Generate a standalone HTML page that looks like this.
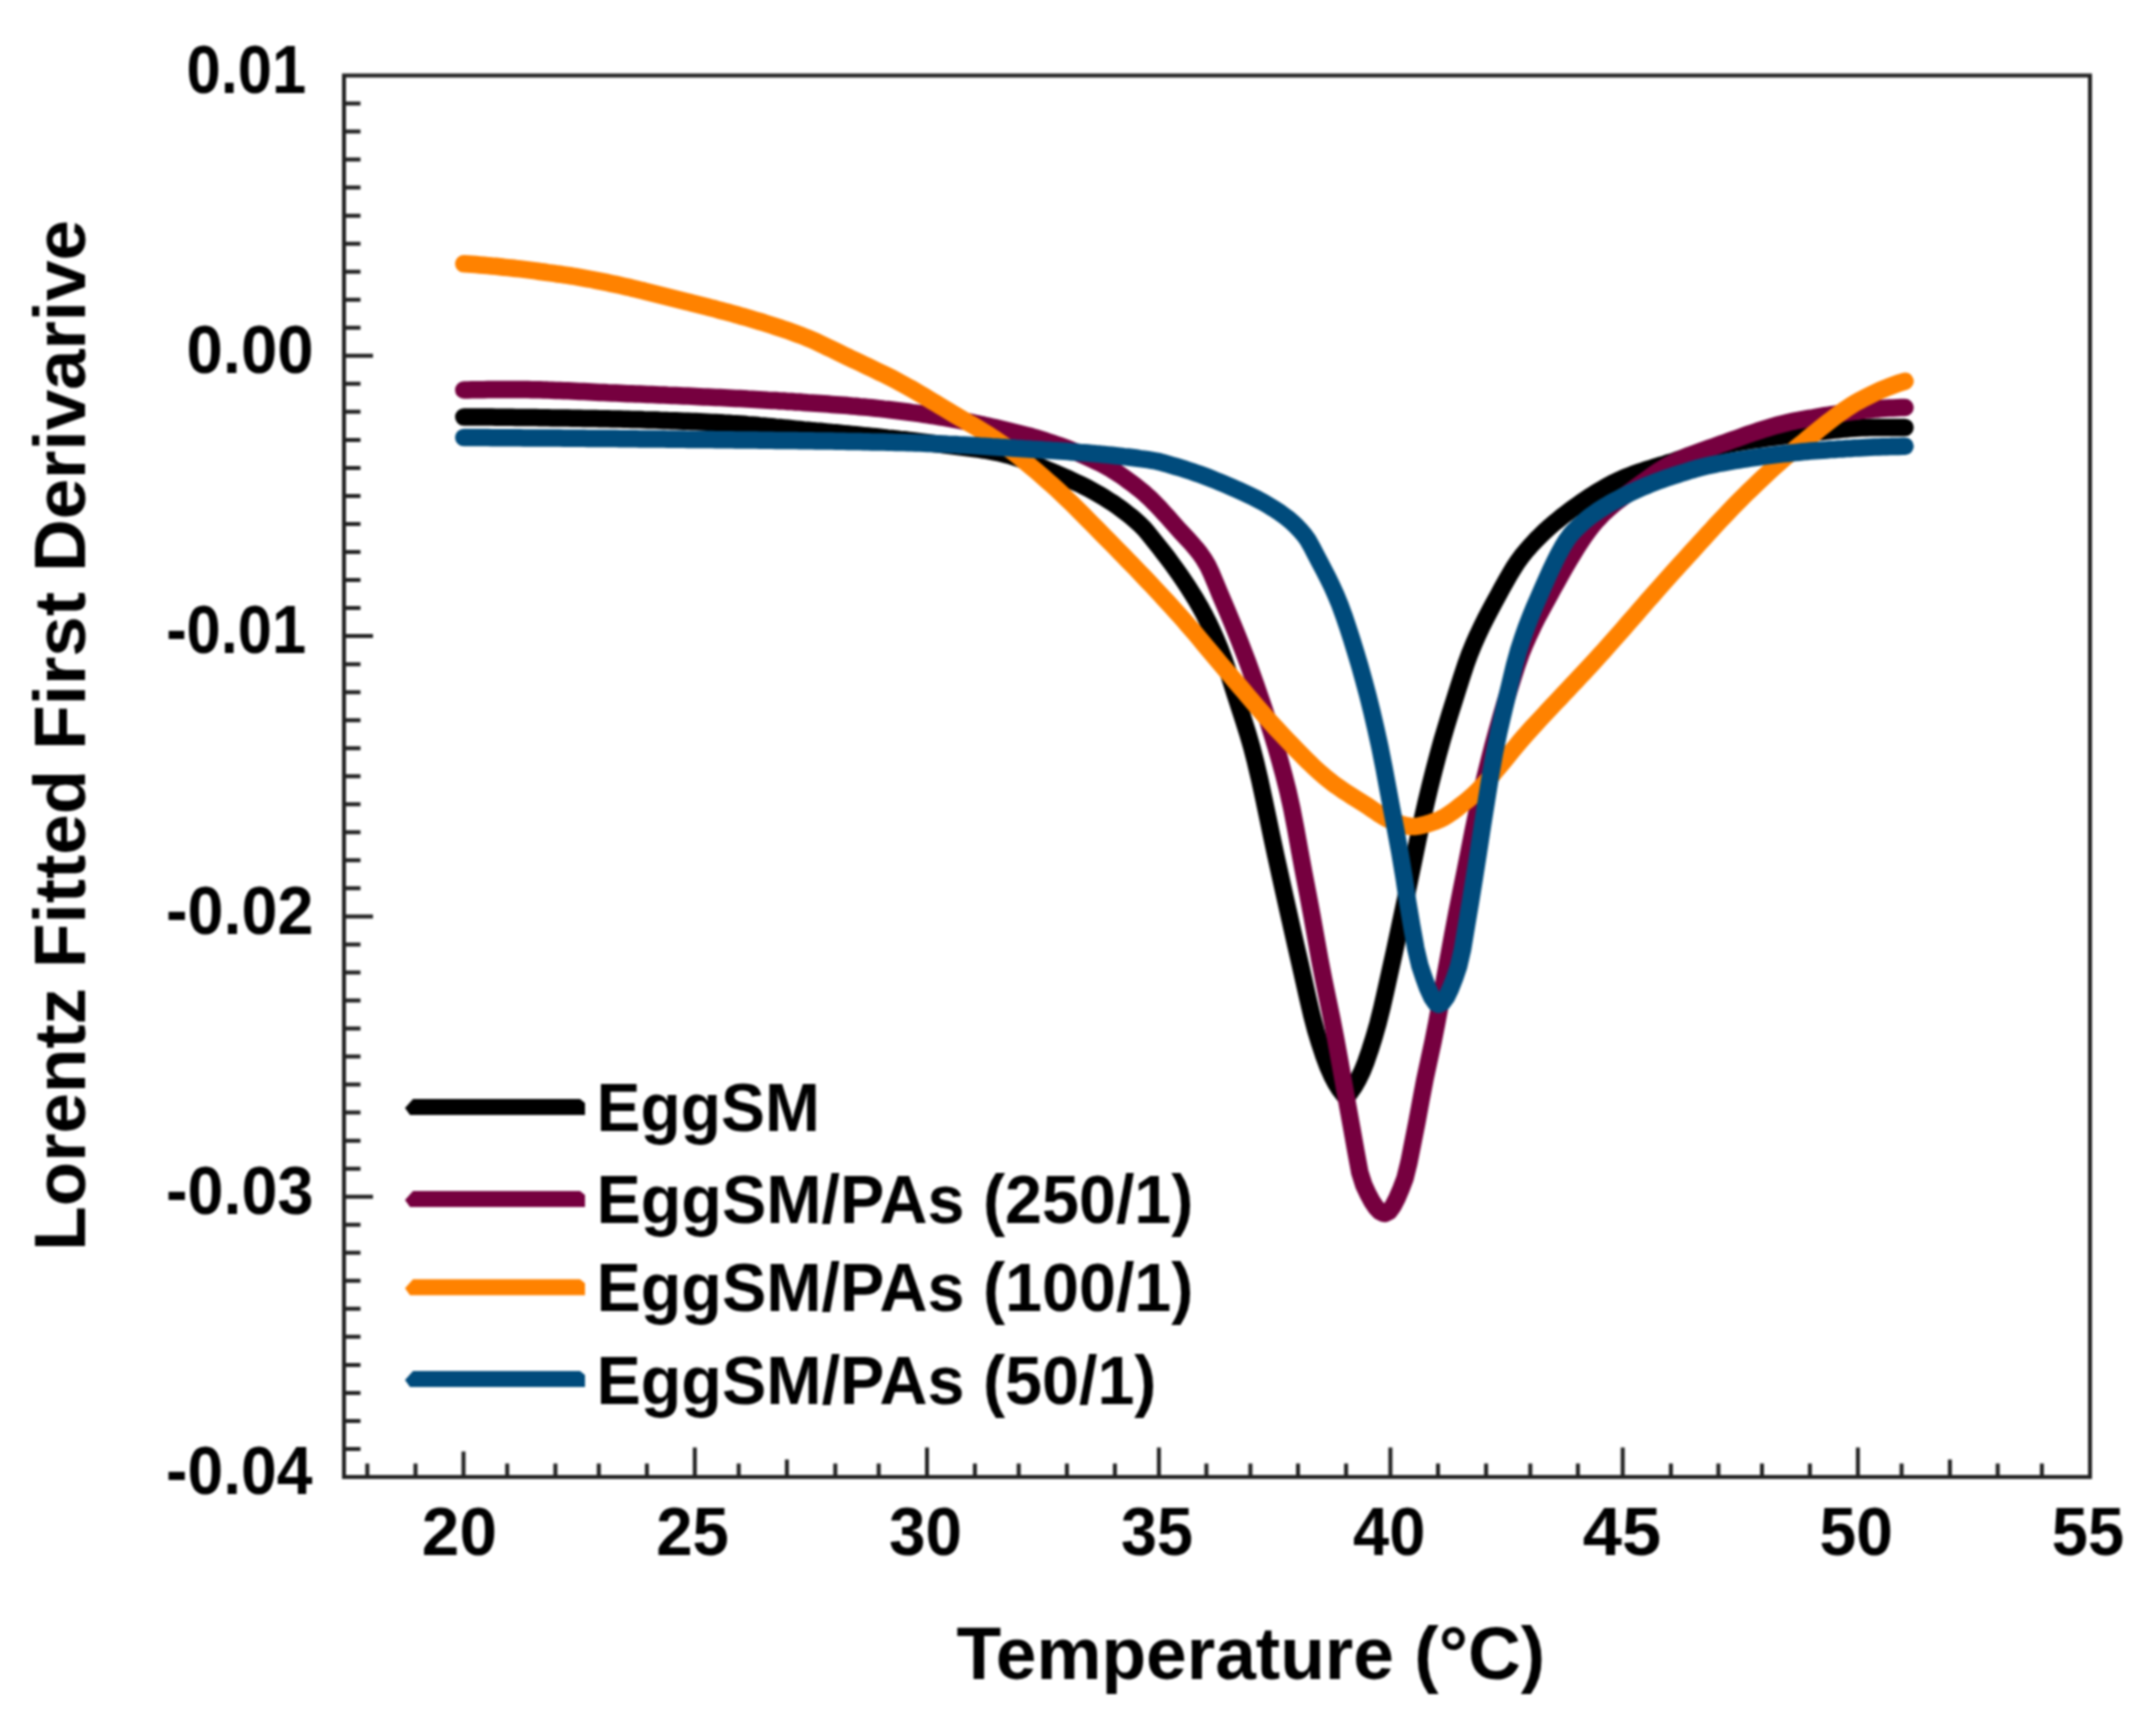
<!DOCTYPE html>
<html lang="en"><head><meta charset="utf-8"><title>Lorentz Fitted First Derivative</title>
<style>
html,body{margin:0;padding:0;background:#fff;}
body{width:2143px;height:1733px;overflow:hidden;}
svg{display:block;filter:blur(0.9px);}
text{font-family:"Liberation Sans",Arial,Helvetica,sans-serif;font-weight:bold;fill:#000;}
</style></head><body>
<svg width="2143" height="1733" viewBox="0 0 2143 1733">
<rect width="2143" height="1733" fill="#fff"/>
<g id="curves">
<path d="M463.8,417.0 L467.8,417.0 L471.8,417.0 L475.8,417.0 L479.8,417.1 L483.8,417.1 L487.8,417.1 L491.8,417.1 L495.8,417.2 L499.8,417.2 L503.8,417.2 L507.8,417.3 L511.8,417.3 L515.8,417.4 L519.8,417.4 L523.8,417.5 L527.8,417.5 L531.8,417.6 L535.8,417.6 L539.8,417.7 L543.8,417.7 L547.8,417.8 L551.8,417.9 L555.8,417.9 L559.8,418.0 L563.8,418.1 L567.8,418.1 L571.8,418.2 L575.8,418.3 L579.8,418.3 L583.8,418.4 L587.8,418.5 L591.8,418.5 L595.8,418.6 L599.8,418.7 L603.8,418.8 L607.8,418.8 L611.8,418.9 L615.8,419.0 L619.8,419.1 L623.8,419.2 L627.8,419.3 L631.8,419.4 L635.8,419.5 L639.8,419.6 L643.8,419.8 L647.8,419.9 L651.8,420.0 L655.8,420.1 L659.8,420.3 L663.8,420.4 L667.8,420.6 L671.8,420.7 L675.8,420.8 L679.8,421.0 L683.8,421.2 L687.8,421.3 L691.8,421.5 L695.8,421.6 L699.8,421.8 L703.8,422.0 L707.8,422.2 L711.8,422.4 L715.8,422.5 L719.8,422.7 L723.8,423.0 L727.8,423.2 L731.8,423.5 L735.8,423.7 L739.8,424.0 L743.8,424.3 L747.8,424.7 L751.8,425.0 L755.8,425.3 L759.8,425.7 L763.8,426.0 L767.8,426.4 L771.8,426.8 L775.8,427.2 L779.8,427.5 L783.8,427.9 L787.8,428.3 L791.8,428.7 L795.8,429.1 L799.8,429.5 L803.8,429.9 L807.8,430.2 L811.8,430.6 L815.8,431.0 L819.8,431.3 L823.8,431.7 L827.8,432.1 L831.8,432.5 L835.8,432.8 L839.8,433.2 L843.8,433.6 L847.8,434.0 L851.8,434.4 L855.8,434.8 L859.8,435.2 L863.8,435.6 L867.8,436.0 L871.8,436.4 L875.8,436.8 L879.8,437.2 L883.8,437.6 L887.8,438.1 L891.8,438.5 L895.8,438.9 L899.8,439.4 L903.8,439.8 L907.8,440.3 L911.8,440.7 L915.8,441.2 L919.8,441.7 L923.8,442.2 L927.8,442.7 L931.8,443.2 L935.8,443.7 L939.8,444.2 L943.8,444.8 L947.8,445.3 L951.8,445.8 L955.8,446.3 L959.8,446.8 L963.8,447.3 L967.8,447.8 L971.8,448.3 L975.8,448.9 L979.8,449.4 L983.8,450.0 L987.8,450.7 L991.8,451.4 L995.8,452.2 L999.8,453.0 L1003.8,453.9 L1007.8,454.9 L1011.8,456.1 L1015.8,457.4 L1019.8,458.8 L1023.8,460.3 L1027.8,461.8 L1031.8,463.4 L1035.8,465.1 L1039.8,466.7 L1043.8,468.4 L1047.8,470.1 L1051.8,471.7 L1055.8,473.4 L1059.8,475.1 L1063.8,476.8 L1067.8,478.6 L1071.8,480.4 L1075.8,482.3 L1079.8,484.2 L1083.8,486.2 L1087.8,488.2 L1091.8,490.4 L1095.8,492.6 L1099.8,494.9 L1103.8,497.3 L1107.8,499.8 L1111.8,502.3 L1115.8,505.0 L1119.8,507.9 L1123.8,510.8 L1127.8,514.0 L1131.8,517.2 L1135.8,520.7 L1139.8,524.3 L1143.8,528.2 L1147.8,532.9 L1151.8,537.9 L1155.8,542.9 L1159.8,547.9 L1163.8,553.0 L1167.8,558.2 L1171.8,563.6 L1175.8,569.1 L1179.8,574.8 L1183.8,580.7 L1187.8,586.7 L1191.8,592.9 L1195.8,599.4 L1199.8,606.3 L1203.8,613.6 L1207.8,621.4 L1211.8,629.7 L1215.8,638.8 L1219.8,648.4 L1223.8,659.0 L1227.8,670.9 L1231.8,683.5 L1235.8,696.2 L1239.8,708.6 L1243.8,720.9 L1247.8,733.6 L1251.8,747.4 L1255.8,762.9 L1259.8,780.1 L1263.8,798.5 L1267.8,817.5 L1271.8,836.7 L1275.8,855.5 L1279.8,873.6 L1283.8,891.6 L1287.8,909.5 L1291.8,927.4 L1295.8,945.1 L1299.8,962.5 L1303.8,980.2 L1307.8,998.2 L1311.8,1015.3 L1315.8,1030.5 L1319.8,1043.6 L1323.8,1055.7 L1327.8,1066.5 L1331.8,1075.6 L1335.8,1083.1 L1339.8,1089.5 L1343.8,1094.8 L1346.0,1097.0 L1350.0,1092.6 L1354.0,1086.8 L1358.0,1079.9 L1362.0,1071.7 L1366.0,1061.7 L1370.0,1050.0 L1374.0,1037.3 L1378.0,1023.4 L1382.0,1007.3 L1386.0,989.7 L1390.0,971.6 L1394.0,953.6 L1398.0,934.9 L1402.0,916.0 L1406.0,897.0 L1410.0,877.9 L1414.0,858.8 L1418.0,839.3 L1422.0,820.5 L1426.0,803.0 L1430.0,786.3 L1434.0,770.4 L1438.0,755.1 L1442.0,740.7 L1446.0,727.1 L1450.0,714.0 L1454.0,701.3 L1458.0,688.6 L1462.0,676.1 L1466.0,664.1 L1470.0,653.1 L1474.0,643.4 L1478.0,634.4 L1482.0,626.0 L1486.0,618.0 L1490.0,610.4 L1494.0,602.9 L1498.0,595.6 L1502.0,588.2 L1506.0,581.0 L1510.0,574.0 L1514.0,567.4 L1518.0,561.3 L1522.0,555.8 L1526.0,551.0 L1530.0,546.4 L1534.0,542.1 L1538.0,537.9 L1542.0,534.0 L1546.0,530.2 L1550.0,526.6 L1554.0,523.2 L1558.0,519.9 L1562.0,516.7 L1566.0,513.6 L1570.0,510.6 L1574.0,507.7 L1578.0,504.8 L1582.0,502.0 L1586.0,499.3 L1590.0,496.6 L1594.0,494.0 L1598.0,491.6 L1602.0,489.2 L1606.0,486.9 L1610.0,484.7 L1614.0,482.6 L1618.0,480.7 L1622.0,478.8 L1626.0,477.1 L1630.0,475.5 L1634.0,474.0 L1638.0,472.6 L1642.0,471.2 L1646.0,469.9 L1650.0,468.7 L1654.0,467.4 L1658.0,466.2 L1662.0,465.0 L1666.0,463.7 L1670.0,462.5 L1674.0,461.2 L1678.0,459.8 L1682.0,458.4 L1686.0,457.0 L1690.0,455.6 L1694.0,454.2 L1698.0,452.8 L1702.0,451.4 L1706.0,450.1 L1710.0,448.9 L1714.0,447.7 L1718.0,446.6 L1722.0,445.7 L1726.0,444.8 L1730.0,444.0 L1734.0,443.2 L1738.0,442.5 L1742.0,441.8 L1746.0,441.1 L1750.0,440.5 L1754.0,439.8 L1758.0,439.2 L1762.0,438.7 L1766.0,438.1 L1770.0,437.6 L1774.0,437.1 L1778.0,436.5 L1782.0,436.1 L1786.0,435.6 L1790.0,435.1 L1794.0,434.7 L1798.0,434.2 L1802.0,433.8 L1806.0,433.3 L1810.0,432.9 L1814.0,432.4 L1818.0,431.9 L1822.0,431.5 L1826.0,431.0 L1830.0,430.5 L1834.0,430.1 L1838.0,429.7 L1842.0,429.3 L1846.0,428.9 L1850.0,428.6 L1854.0,428.3 L1858.0,428.0 L1862.0,427.8 L1866.0,427.7 L1870.0,427.5 L1874.0,427.5 L1878.0,427.5 L1882.0,427.5 L1886.0,427.5 L1890.0,427.5 L1894.0,427.5 L1898.0,427.5 L1902.0,427.5 L1905.0,427.5" fill="none" stroke="#000000" stroke-width="17.5" stroke-linecap="round" stroke-linejoin="round"/>
<path d="M463.8,390.0 L467.8,389.9 L471.8,389.8 L475.8,389.8 L479.8,389.7 L483.8,389.7 L487.8,389.6 L491.8,389.6 L495.8,389.5 L499.8,389.5 L503.8,389.5 L507.8,389.5 L511.8,389.5 L515.8,389.5 L519.8,389.5 L523.8,389.5 L527.8,389.6 L531.8,389.7 L535.8,389.7 L539.8,389.8 L543.8,389.9 L547.8,390.1 L551.8,390.2 L555.8,390.4 L559.8,390.5 L563.8,390.7 L567.8,390.8 L571.8,391.0 L575.8,391.2 L579.8,391.4 L583.8,391.6 L587.8,391.8 L591.8,392.0 L595.8,392.2 L599.8,392.4 L603.8,392.6 L607.8,392.8 L611.8,392.9 L615.8,393.1 L619.8,393.3 L623.8,393.5 L627.8,393.7 L631.8,393.8 L635.8,394.0 L639.8,394.1 L643.8,394.3 L647.8,394.5 L651.8,394.6 L655.8,394.8 L659.8,395.0 L663.8,395.1 L667.8,395.3 L671.8,395.4 L675.8,395.6 L679.8,395.8 L683.8,396.0 L687.8,396.1 L691.8,396.3 L695.8,396.5 L699.8,396.7 L703.8,396.9 L707.8,397.0 L711.8,397.2 L715.8,397.4 L719.8,397.6 L723.8,397.8 L727.8,398.0 L731.8,398.2 L735.8,398.4 L739.8,398.6 L743.8,398.8 L747.8,399.1 L751.8,399.3 L755.8,399.5 L759.8,399.7 L763.8,399.9 L767.8,400.2 L771.8,400.4 L775.8,400.6 L779.8,400.9 L783.8,401.1 L787.8,401.4 L791.8,401.6 L795.8,401.9 L799.8,402.1 L803.8,402.4 L807.8,402.7 L811.8,402.9 L815.8,403.2 L819.8,403.5 L823.8,403.8 L827.8,404.1 L831.8,404.4 L835.8,404.7 L839.8,405.0 L843.8,405.3 L847.8,405.6 L851.8,406.0 L855.8,406.3 L859.8,406.7 L863.8,407.0 L867.8,407.4 L871.8,407.8 L875.8,408.2 L879.8,408.6 L883.8,409.1 L887.8,409.5 L891.8,410.0 L895.8,410.5 L899.8,411.0 L903.8,411.5 L907.8,412.0 L911.8,412.6 L915.8,413.1 L919.8,413.7 L923.8,414.3 L927.8,414.9 L931.8,415.5 L935.8,416.2 L939.8,416.8 L943.8,417.5 L947.8,418.2 L951.8,418.9 L955.8,419.7 L959.8,420.4 L963.8,421.2 L967.8,421.9 L971.8,422.7 L975.8,423.5 L979.8,424.4 L983.8,425.2 L987.8,426.1 L991.8,427.0 L995.8,427.9 L999.8,428.8 L1003.8,429.7 L1007.8,430.7 L1011.8,431.7 L1015.8,432.7 L1019.8,433.7 L1023.8,434.7 L1027.8,435.7 L1031.8,436.8 L1035.8,438.0 L1039.8,439.2 L1043.8,440.4 L1047.8,441.7 L1051.8,443.0 L1055.8,444.4 L1059.8,445.8 L1063.8,447.3 L1067.8,448.8 L1071.8,450.4 L1075.8,452.0 L1079.8,453.7 L1083.8,455.4 L1087.8,457.2 L1091.8,459.1 L1095.8,461.0 L1099.8,462.9 L1103.8,464.9 L1107.8,467.2 L1111.8,469.5 L1115.8,472.0 L1119.8,474.6 L1123.8,477.4 L1127.8,480.3 L1131.8,483.3 L1135.8,486.3 L1139.8,489.5 L1143.8,492.8 L1147.8,496.4 L1151.8,500.2 L1155.8,504.2 L1159.8,508.4 L1163.8,512.8 L1167.8,517.2 L1171.8,521.7 L1175.8,526.2 L1179.8,530.7 L1183.8,535.0 L1187.8,539.3 L1191.8,543.6 L1195.8,548.3 L1199.8,553.3 L1203.8,559.0 L1207.8,565.8 L1211.8,574.3 L1215.8,583.8 L1219.8,593.6 L1223.8,603.0 L1227.8,612.4 L1231.8,622.0 L1235.8,631.8 L1239.8,641.8 L1243.8,652.1 L1247.8,662.7 L1251.8,673.7 L1255.8,684.9 L1259.8,696.5 L1263.8,708.3 L1267.8,720.4 L1271.8,733.0 L1275.8,746.2 L1279.8,760.1 L1283.8,774.7 L1287.8,790.5 L1291.8,808.4 L1295.8,829.2 L1299.8,851.4 L1303.8,872.8 L1307.8,893.7 L1311.8,914.9 L1315.8,937.2 L1319.8,959.6 L1323.8,980.2 L1327.8,999.5 L1331.8,1018.8 L1335.8,1039.4 L1339.8,1061.4 L1343.8,1083.7 L1347.8,1106.2 L1351.8,1128.3 L1355.8,1150.8 L1359.8,1172.4 L1363.8,1185.0 L1367.8,1193.7 L1371.8,1201.2 L1375.8,1207.2 L1379.8,1211.4 L1383.8,1213.4 L1385.0,1213.5 L1389.0,1211.5 L1393.0,1206.1 L1397.0,1198.3 L1401.0,1188.9 L1405.0,1178.4 L1409.0,1162.1 L1413.0,1142.0 L1417.0,1121.8 L1421.0,1100.0 L1425.0,1079.0 L1429.0,1060.3 L1433.0,1041.8 L1437.0,1021.6 L1441.0,999.6 L1445.0,977.1 L1449.0,955.1 L1453.0,933.2 L1457.0,912.1 L1461.0,892.0 L1465.0,872.2 L1469.0,852.0 L1473.0,831.7 L1477.0,812.6 L1481.0,794.7 L1485.0,777.6 L1489.0,761.3 L1493.0,745.8 L1497.0,731.0 L1501.0,716.8 L1505.0,703.3 L1509.0,690.2 L1513.0,677.3 L1517.0,665.0 L1521.0,653.8 L1525.0,644.0 L1529.0,634.9 L1533.0,626.4 L1537.0,618.4 L1541.0,610.8 L1545.0,603.5 L1549.0,596.2 L1553.0,588.9 L1557.0,581.7 L1561.0,574.5 L1565.0,567.5 L1569.0,560.6 L1573.0,553.9 L1577.0,547.4 L1581.0,541.2 L1585.0,535.4 L1589.0,529.9 L1593.0,524.7 L1597.0,520.1 L1601.0,515.9 L1605.0,511.9 L1609.0,508.3 L1613.0,504.9 L1617.0,501.6 L1621.0,498.5 L1625.0,495.5 L1629.0,492.5 L1633.0,489.6 L1637.0,486.6 L1641.0,483.7 L1645.0,480.7 L1649.0,477.8 L1653.0,475.0 L1657.0,472.2 L1661.0,469.6 L1665.0,467.1 L1669.0,464.8 L1673.0,462.8 L1677.0,460.8 L1681.0,459.0 L1685.0,457.3 L1689.0,455.6 L1693.0,454.1 L1697.0,452.6 L1701.0,451.1 L1705.0,449.7 L1709.0,448.3 L1713.0,446.9 L1717.0,445.5 L1721.0,444.1 L1725.0,442.7 L1729.0,441.2 L1733.0,439.8 L1737.0,438.4 L1741.0,437.0 L1745.0,435.5 L1749.0,434.1 L1753.0,432.8 L1757.0,431.4 L1761.0,430.1 L1765.0,428.8 L1769.0,427.6 L1773.0,426.4 L1777.0,425.3 L1781.0,424.2 L1785.0,423.2 L1789.0,422.2 L1793.0,421.3 L1797.0,420.5 L1801.0,419.8 L1805.0,419.1 L1809.0,418.4 L1813.0,417.8 L1817.0,417.1 L1821.0,416.4 L1825.0,415.7 L1829.0,415.1 L1833.0,414.5 L1837.0,413.8 L1841.0,413.2 L1845.0,412.7 L1849.0,412.1 L1853.0,411.6 L1857.0,411.1 L1861.0,410.6 L1865.0,410.1 L1869.0,409.7 L1873.0,409.3 L1877.0,408.9 L1881.0,408.6 L1885.0,408.3 L1889.0,408.1 L1893.0,407.9 L1897.0,407.7 L1901.0,407.6 L1905.0,407.5" fill="none" stroke="#76003f" stroke-width="17.5" stroke-linecap="round" stroke-linejoin="round"/>
<path d="M463.8,263.8 L467.8,264.0 L471.8,264.3 L475.8,264.6 L479.8,264.9 L483.8,265.2 L487.8,265.6 L491.8,266.0 L495.8,266.3 L499.8,266.7 L503.8,267.2 L507.8,267.6 L511.8,268.0 L515.8,268.5 L519.8,268.9 L523.8,269.4 L527.8,269.9 L531.8,270.4 L535.8,270.9 L539.8,271.5 L543.8,272.0 L547.8,272.6 L551.8,273.1 L555.8,273.7 L559.8,274.2 L563.8,274.8 L567.8,275.4 L571.8,276.0 L575.8,276.7 L579.8,277.4 L583.8,278.1 L587.8,278.8 L591.8,279.5 L595.8,280.3 L599.8,281.1 L603.8,281.9 L607.8,282.7 L611.8,283.6 L615.8,284.4 L619.8,285.3 L623.8,286.2 L627.8,287.1 L631.8,288.1 L635.8,289.0 L639.8,290.0 L643.8,290.9 L647.8,291.9 L651.8,292.9 L655.8,293.9 L659.8,294.9 L663.8,295.9 L667.8,296.9 L671.8,297.9 L675.8,298.9 L679.8,299.9 L683.8,300.9 L687.8,301.9 L691.8,303.0 L695.8,304.0 L699.8,305.0 L703.8,306.0 L707.8,307.0 L711.8,308.1 L715.8,309.1 L719.8,310.2 L723.8,311.3 L727.8,312.3 L731.8,313.4 L735.8,314.5 L739.8,315.7 L743.8,316.8 L747.8,317.9 L751.8,319.1 L755.8,320.3 L759.8,321.5 L763.8,322.7 L767.8,324.0 L771.8,325.3 L775.8,326.6 L779.8,327.9 L783.8,329.2 L787.8,330.6 L791.8,332.0 L795.8,333.5 L799.8,334.9 L803.8,336.5 L807.8,338.1 L811.8,339.8 L815.8,341.6 L819.8,343.4 L823.8,345.3 L827.8,347.3 L831.8,349.2 L835.8,351.2 L839.8,353.2 L843.8,355.1 L847.8,357.0 L851.8,359.0 L855.8,360.8 L859.8,362.7 L863.8,364.6 L867.8,366.5 L871.8,368.4 L875.8,370.3 L879.8,372.3 L883.8,374.2 L887.8,376.2 L891.8,378.2 L895.8,380.3 L899.8,382.4 L903.8,384.6 L907.8,386.8 L911.8,389.0 L915.8,391.3 L919.8,393.7 L923.8,396.1 L927.8,398.5 L931.8,400.9 L935.8,403.3 L939.8,405.7 L943.8,408.2 L947.8,410.6 L951.8,413.0 L955.8,415.3 L959.8,417.7 L963.8,420.0 L967.8,422.4 L971.8,424.7 L975.8,427.1 L979.8,429.5 L983.8,431.9 L987.8,434.4 L991.8,437.0 L995.8,439.6 L999.8,442.4 L1003.8,445.2 L1007.8,448.1 L1011.8,451.1 L1015.8,454.2 L1019.8,457.4 L1023.8,460.6 L1027.8,463.9 L1031.8,467.3 L1035.8,470.7 L1039.8,474.1 L1043.8,477.6 L1047.8,481.2 L1051.8,484.7 L1055.8,488.3 L1059.8,492.0 L1063.8,495.8 L1067.8,499.7 L1071.8,503.6 L1075.8,507.5 L1079.8,511.5 L1083.8,515.5 L1087.8,519.6 L1091.8,523.6 L1095.8,527.7 L1099.8,531.7 L1103.8,535.8 L1107.8,539.9 L1111.8,543.9 L1115.8,548.0 L1119.8,552.1 L1123.8,556.2 L1127.8,560.3 L1131.8,564.4 L1135.8,568.5 L1139.8,572.7 L1143.8,576.9 L1147.8,581.1 L1151.8,585.3 L1155.8,589.6 L1159.8,593.9 L1163.8,598.2 L1167.8,602.5 L1171.8,606.9 L1175.8,611.3 L1179.8,615.8 L1183.8,620.3 L1187.8,624.9 L1191.8,629.5 L1195.8,634.2 L1199.8,639.0 L1203.8,643.8 L1207.8,648.6 L1211.8,653.4 L1215.8,658.2 L1219.8,663.0 L1223.8,667.7 L1227.8,672.4 L1231.8,677.1 L1235.8,681.8 L1239.8,686.5 L1243.8,691.2 L1247.8,696.0 L1251.8,700.7 L1255.8,705.4 L1259.8,710.0 L1263.8,714.6 L1267.8,719.2 L1271.8,723.6 L1275.8,728.0 L1279.8,732.3 L1283.8,736.5 L1287.8,740.7 L1291.8,744.9 L1295.8,749.1 L1299.8,753.2 L1303.8,757.2 L1307.8,761.2 L1311.8,765.1 L1315.8,768.8 L1319.8,772.4 L1323.8,775.9 L1327.8,779.2 L1331.8,782.4 L1335.8,785.4 L1339.8,788.2 L1343.8,790.9 L1347.8,793.5 L1351.8,796.1 L1355.8,798.6 L1359.8,801.1 L1363.8,803.6 L1367.8,806.2 L1371.8,808.9 L1375.8,811.7 L1379.8,814.4 L1383.8,816.9 L1387.8,819.1 L1391.8,820.7 L1395.8,822.3 L1399.8,823.8 L1403.8,825.1 L1407.8,826.0 L1411.8,826.5 L1415.8,826.4 L1419.8,825.8 L1423.8,824.9 L1427.8,823.8 L1431.8,822.4 L1435.8,821.1 L1439.8,819.5 L1443.8,817.4 L1447.8,815.0 L1451.8,812.3 L1455.8,809.4 L1459.8,806.2 L1463.8,803.0 L1467.8,799.8 L1471.8,796.3 L1475.8,792.6 L1479.8,788.6 L1483.8,784.4 L1487.8,780.0 L1491.8,775.4 L1495.8,770.7 L1499.8,765.9 L1503.8,761.1 L1507.8,756.2 L1511.8,751.3 L1515.8,746.5 L1519.8,741.7 L1523.8,737.0 L1527.8,732.4 L1531.8,728.0 L1535.8,723.7 L1539.8,719.4 L1543.8,715.1 L1547.8,710.8 L1551.8,706.5 L1555.8,702.3 L1559.8,698.1 L1563.8,693.8 L1567.8,689.6 L1571.8,685.3 L1575.8,681.1 L1579.8,676.8 L1583.8,672.6 L1587.8,668.3 L1591.8,664.0 L1595.8,659.6 L1599.8,655.2 L1603.8,650.8 L1607.8,646.3 L1611.8,641.8 L1615.8,637.3 L1619.8,632.8 L1623.8,628.2 L1627.8,623.6 L1631.8,619.0 L1635.8,614.4 L1639.8,609.8 L1643.8,605.2 L1647.8,600.6 L1651.8,596.1 L1655.8,591.5 L1659.8,587.0 L1663.8,582.5 L1667.8,578.0 L1671.8,573.5 L1675.8,569.1 L1679.8,564.7 L1683.8,560.3 L1687.8,555.9 L1691.8,551.5 L1695.8,547.1 L1699.8,542.7 L1703.8,538.3 L1707.8,533.9 L1711.8,529.6 L1715.8,525.2 L1719.8,520.9 L1723.8,516.7 L1727.8,512.5 L1731.8,508.3 L1735.8,504.2 L1739.8,500.1 L1743.8,496.1 L1747.8,492.1 L1751.8,488.3 L1755.8,484.4 L1759.8,480.6 L1763.8,476.8 L1767.8,473.1 L1771.8,469.4 L1775.8,465.8 L1779.8,462.2 L1783.8,458.7 L1787.8,455.2 L1791.8,451.8 L1795.8,448.4 L1799.8,445.2 L1803.8,441.9 L1807.8,438.6 L1811.8,435.3 L1815.8,432.1 L1819.8,428.8 L1823.8,425.6 L1827.8,422.4 L1831.8,419.3 L1835.8,416.3 L1839.8,413.3 L1843.8,410.5 L1847.8,407.8 L1851.8,405.2 L1855.8,402.7 L1859.8,400.5 L1863.8,398.3 L1867.8,396.3 L1871.8,394.3 L1875.8,392.4 L1879.8,390.6 L1883.8,388.9 L1887.8,387.2 L1891.8,385.7 L1895.8,384.2 L1899.8,382.8 L1903.8,381.6 L1905.0,381.2" fill="none" stroke="#ff8200" stroke-width="17.5" stroke-linecap="round" stroke-linejoin="round"/>
<path d="M463.8,437.5 L467.8,437.5 L471.8,437.5 L475.8,437.6 L479.8,437.6 L483.8,437.6 L487.8,437.6 L491.8,437.7 L495.8,437.7 L499.8,437.7 L503.8,437.7 L507.8,437.8 L511.8,437.8 L515.8,437.8 L519.8,437.8 L523.8,437.9 L527.8,437.9 L531.8,437.9 L535.8,437.9 L539.8,438.0 L543.8,438.0 L547.8,438.0 L551.8,438.1 L555.8,438.1 L559.8,438.1 L563.8,438.2 L567.8,438.2 L571.8,438.2 L575.8,438.3 L579.8,438.3 L583.8,438.3 L587.8,438.4 L591.8,438.4 L595.8,438.4 L599.8,438.5 L603.8,438.5 L607.8,438.6 L611.8,438.6 L615.8,438.6 L619.8,438.7 L623.8,438.7 L627.8,438.7 L631.8,438.8 L635.8,438.8 L639.8,438.9 L643.8,438.9 L647.8,438.9 L651.8,439.0 L655.8,439.0 L659.8,439.1 L663.8,439.1 L667.8,439.2 L671.8,439.2 L675.8,439.2 L679.8,439.3 L683.8,439.3 L687.8,439.4 L691.8,439.4 L695.8,439.5 L699.8,439.5 L703.8,439.5 L707.8,439.6 L711.8,439.6 L715.8,439.7 L719.8,439.7 L723.8,439.8 L727.8,439.8 L731.8,439.8 L735.8,439.9 L739.8,439.9 L743.8,440.0 L747.8,440.0 L751.8,440.1 L755.8,440.1 L759.8,440.2 L763.8,440.2 L767.8,440.3 L771.8,440.3 L775.8,440.4 L779.8,440.4 L783.8,440.5 L787.8,440.5 L791.8,440.6 L795.8,440.6 L799.8,440.7 L803.8,440.7 L807.8,440.8 L811.8,440.8 L815.8,440.9 L819.8,441.0 L823.8,441.0 L827.8,441.1 L831.8,441.1 L835.8,441.2 L839.8,441.3 L843.8,441.3 L847.8,441.4 L851.8,441.5 L855.8,441.6 L859.8,441.6 L863.8,441.7 L867.8,441.8 L871.8,441.9 L875.8,442.0 L879.8,442.0 L883.8,442.1 L887.8,442.2 L891.8,442.3 L895.8,442.4 L899.8,442.5 L903.8,442.6 L907.8,442.7 L911.8,442.8 L915.8,443.0 L919.8,443.1 L923.8,443.2 L927.8,443.4 L931.8,443.5 L935.8,443.7 L939.8,443.9 L943.8,444.1 L947.8,444.3 L951.8,444.4 L955.8,444.6 L959.8,444.9 L963.8,445.1 L967.8,445.3 L971.8,445.5 L975.8,445.7 L979.8,446.0 L983.8,446.2 L987.8,446.4 L991.8,446.7 L995.8,446.9 L999.8,447.2 L1003.8,447.4 L1007.8,447.7 L1011.8,447.9 L1015.8,448.2 L1019.8,448.4 L1023.8,448.7 L1027.8,448.9 L1031.8,449.2 L1035.8,449.4 L1039.8,449.7 L1043.8,450.0 L1047.8,450.2 L1051.8,450.5 L1055.8,450.7 L1059.8,451.0 L1063.8,451.3 L1067.8,451.6 L1071.8,451.9 L1075.8,452.1 L1079.8,452.5 L1083.8,452.8 L1087.8,453.1 L1091.8,453.4 L1095.8,453.8 L1099.8,454.1 L1103.8,454.5 L1107.8,454.9 L1111.8,455.3 L1115.8,455.7 L1119.8,456.1 L1123.8,456.6 L1127.8,457.0 L1131.8,457.5 L1135.8,458.0 L1139.8,458.6 L1143.8,459.1 L1147.8,459.7 L1151.8,460.3 L1155.8,461.0 L1159.8,461.9 L1163.8,463.0 L1167.8,464.1 L1171.8,465.3 L1175.8,466.5 L1179.8,467.7 L1183.8,468.9 L1187.8,470.2 L1191.8,471.5 L1195.8,472.9 L1199.8,474.3 L1203.8,475.8 L1207.8,477.3 L1211.8,478.9 L1215.8,480.5 L1219.8,482.1 L1223.8,483.8 L1227.8,485.5 L1231.8,487.3 L1235.8,489.0 L1239.8,490.8 L1243.8,492.7 L1247.8,494.5 L1251.8,496.4 L1255.8,498.4 L1259.8,500.5 L1263.8,502.7 L1267.8,505.0 L1271.8,507.4 L1275.8,509.9 L1279.8,512.6 L1283.8,515.5 L1287.8,518.5 L1291.8,521.9 L1295.8,525.7 L1299.8,529.8 L1303.8,534.4 L1307.8,539.9 L1311.8,547.0 L1315.8,554.8 L1319.8,562.4 L1323.8,570.0 L1327.8,577.8 L1331.8,586.0 L1335.8,594.8 L1339.8,604.5 L1343.8,615.4 L1347.8,627.2 L1351.8,639.7 L1355.8,652.6 L1359.8,666.1 L1363.8,680.3 L1367.8,695.3 L1371.8,711.3 L1375.8,728.4 L1379.8,746.7 L1383.8,766.6 L1387.8,788.1 L1391.8,809.5 L1395.8,830.5 L1399.8,852.2 L1403.8,875.9 L1407.8,902.5 L1411.8,926.3 L1415.8,948.4 L1419.8,965.4 L1423.8,977.4 L1427.8,988.4 L1431.8,997.2 L1435.8,1002.9 L1438.5,1004.5 L1442.5,1002.5 L1446.5,996.9 L1450.5,988.6 L1454.5,978.3 L1458.5,966.7 L1462.5,949.5 L1466.5,925.5 L1470.5,901.8 L1474.5,877.0 L1478.5,851.6 L1482.5,825.5 L1486.5,800.3 L1490.5,775.3 L1494.5,752.6 L1498.5,733.2 L1502.5,715.7 L1506.5,698.9 L1510.5,681.9 L1514.5,665.4 L1518.5,650.8 L1522.5,638.4 L1526.5,627.0 L1530.5,616.6 L1534.5,606.9 L1538.5,597.7 L1542.5,588.6 L1546.5,579.5 L1550.5,570.7 L1554.5,562.2 L1558.5,554.2 L1562.5,546.9 L1566.5,540.4 L1570.5,534.9 L1574.5,530.4 L1578.5,526.5 L1582.5,522.8 L1586.5,519.4 L1590.5,516.2 L1594.5,513.3 L1598.5,510.5 L1602.5,508.0 L1606.5,505.5 L1610.5,503.2 L1614.5,501.0 L1618.5,498.9 L1622.5,496.8 L1626.5,494.7 L1630.5,492.7 L1634.5,490.8 L1638.5,489.0 L1642.5,487.3 L1646.5,485.6 L1650.5,484.0 L1654.5,482.4 L1658.5,480.9 L1662.5,479.5 L1666.5,478.1 L1670.5,476.7 L1674.5,475.4 L1678.5,474.1 L1682.5,472.8 L1686.5,471.6 L1690.5,470.3 L1694.5,469.2 L1698.5,468.0 L1702.5,467.0 L1706.5,466.0 L1710.5,465.1 L1714.5,464.3 L1718.5,463.5 L1722.5,462.8 L1726.5,462.1 L1730.5,461.4 L1734.5,460.7 L1738.5,460.1 L1742.5,459.4 L1746.5,458.8 L1750.5,458.2 L1754.5,457.6 L1758.5,457.0 L1762.5,456.4 L1766.5,455.9 L1770.5,455.4 L1774.5,454.9 L1778.5,454.4 L1782.5,453.9 L1786.5,453.5 L1790.5,453.0 L1794.5,452.6 L1798.5,452.2 L1802.5,451.8 L1806.5,451.4 L1810.5,451.1 L1814.5,450.8 L1818.5,450.5 L1822.5,450.2 L1826.5,449.9 L1830.5,449.6 L1834.5,449.4 L1838.5,449.1 L1842.5,448.9 L1846.5,448.6 L1850.5,448.4 L1854.5,448.1 L1858.5,447.9 L1862.5,447.7 L1866.5,447.5 L1870.5,447.3 L1874.5,447.1 L1878.5,447.0 L1882.5,446.8 L1886.5,446.7 L1890.5,446.6 L1894.5,446.4 L1898.5,446.4 L1902.5,446.3 L1905.0,446.2" fill="none" stroke="#004b7c" stroke-width="17.5" stroke-linecap="round" stroke-linejoin="round"/>
</g>
<g id="axes">
<rect x="344.0" y="75.5" width="1746.0" height="1401.5" fill="none" stroke="#222222" stroke-width="4"/>
<path d="M344.0,103.53h16.5 M344.0,131.56h16.5 M344.0,159.59h16.5 M344.0,187.62h16.5 M344.0,215.65h16.5 M344.0,243.68h16.5 M344.0,271.71h16.5 M344.0,299.74h16.5 M344.0,327.77h16.5 M344.0,355.80h29 M344.0,383.83h16.5 M344.0,411.86h16.5 M344.0,439.89h16.5 M344.0,467.92h16.5 M344.0,495.95h16.5 M344.0,523.98h16.5 M344.0,552.01h16.5 M344.0,580.04h16.5 M344.0,608.07h16.5 M344.0,636.10h29 M344.0,664.13h16.5 M344.0,692.16h16.5 M344.0,720.19h16.5 M344.0,748.22h16.5 M344.0,776.25h16.5 M344.0,804.28h16.5 M344.0,832.31h16.5 M344.0,860.34h16.5 M344.0,888.37h16.5 M344.0,916.40h29 M344.0,944.43h16.5 M344.0,972.46h16.5 M344.0,1000.49h16.5 M344.0,1028.52h16.5 M344.0,1056.55h16.5 M344.0,1084.58h16.5 M344.0,1112.61h16.5 M344.0,1140.64h16.5 M344.0,1168.67h16.5 M344.0,1196.70h29 M344.0,1224.73h16.5 M344.0,1252.76h16.5 M344.0,1280.79h16.5 M344.0,1308.82h16.5 M344.0,1336.85h16.5 M344.0,1364.88h16.5 M344.0,1392.91h16.5 M344.0,1420.94h16.5 M344.0,1448.97h16.5 M367.30,1477.0v-13.6 M415.50,1477.0v-13.6 M463.50,1477.0v-25.6 M507.20,1477.0v-13.6 M555.40,1477.0v-13.6 M598.80,1477.0v-13.6 M646.90,1477.0v-13.6 M694.80,1477.0v-29.5 M738.70,1477.0v-13.6 M786.90,1477.0v-17.5 M835.30,1477.0v-13.6 M878.70,1477.0v-13.6 M927.00,1477.0v-29.5 M974.90,1477.0v-13.6 M1018.70,1477.0v-13.6 M1066.90,1477.0v-13.6 M1114.90,1477.0v-13.6 M1158.90,1477.0v-29.5 M1206.40,1477.0v-13.6 M1250.40,1477.0v-13.6 M1298.00,1477.0v-13.6 M1346.10,1477.0v-13.6 M1390.40,1477.0v-29.5 M1438.00,1477.0v-13.6 M1486.10,1477.0v-13.6 M1530.30,1477.0v-13.6 M1577.90,1477.0v-13.6 M1622.70,1477.0v-29.5 M1670.90,1477.0v-13.6 M1718.40,1477.0v-13.6 M1762.00,1477.0v-13.6 M1809.90,1477.0v-13.6 M1857.90,1477.0v-29.5 M1901.60,1477.0v-13.6 M1949.90,1477.0v-17.5 M1997.70,1477.0v-13.6 M2041.90,1477.0v-13.6" fill="none" stroke="#222222" stroke-width="4"/>
</g>
<g id="legend">
<path d="M405,1107.9 L413,1098.9 L580,1098.9 L585,1102.9 L585,1114.9 L410,1114.9 Z" fill="#000000"/>
<path d="M405,1200.1 L413,1191.1 L580,1191.1 L585,1195.1 L585,1207.1 L410,1207.1 Z" fill="#76003f"/>
<path d="M405,1288.2 L413,1279.2 L580,1279.2 L585,1283.2 L585,1295.2 L410,1295.2 Z" fill="#ff8200"/>
<path d="M405,1380.0 L413,1371.0 L580,1371.0 L585,1375.0 L585,1387.0 L410,1387.0 Z" fill="#004b7c"/>
</g>
<g id="labels">
<text transform="translate(186.54,92.72) scale(0.9325,1.0286)" font-size="66">0.01</text>
<text transform="translate(186.39,373.02) scale(0.9903,1.0286)" font-size="66">0.00</text>
<text transform="translate(166.14,653.32) scale(0.9310,1.0286)" font-size="66">-0.01</text>
<text transform="translate(166.01,933.62) scale(0.9807,1.0286)" font-size="66">-0.02</text>
<text transform="translate(166.01,1213.92) scale(0.9799,1.0286)" font-size="66">-0.03</text>
<text transform="translate(166.03,1494.22) scale(0.9735,1.0286)" font-size="66">-0.04</text>
<text transform="translate(421.84,1554.62) scale(1.0233,1.0307)" font-size="66">20</text>
<text transform="translate(656.21,1554.62) scale(0.9899,1.0307)" font-size="66">25</text>
<text transform="translate(889.06,1554.62) scale(0.9946,1.0307)" font-size="66">30</text>
<text transform="translate(1120.98,1554.62) scale(0.9806,1.0307)" font-size="66">35</text>
<text transform="translate(1353.12,1554.62) scale(0.9852,1.0307)" font-size="66">40</text>
<text transform="translate(1582.84,1554.61) scale(1.0677,1.0455)" font-size="66">45</text>
<text transform="translate(1819.62,1554.62) scale(0.9994,1.0307)" font-size="66">50</text>
<text transform="translate(2051.75,1554.61) scale(0.9852,1.0455)" font-size="66">55</text>
<text transform="translate(596.46,1130.50) scale(0.9992,1.0386)" font-size="66">EggSM</text>
<text transform="translate(596.43,1222.80) scale(1.0071,1.0386)" font-size="66">EggSM/PAs (250/1)</text>
<text transform="translate(596.43,1311.30) scale(1.0071,1.0386)" font-size="66">EggSM/PAs (100/1)</text>
<text transform="translate(596.43,1403.50) scale(1.0072,1.0386)" font-size="66">EggSM/PAs (50/1)</text>
<text transform="translate(956.47,1679.20) scale(1.0157,1.0266)" font-size="72">Temperature (°C)</text>
<text transform="translate(84.70,1250.73) rotate(-90) scale(1.0105,1.0004)" font-size="72">Lorentz Fitted First Derivarive</text>
</g>
</svg>
</body></html>
